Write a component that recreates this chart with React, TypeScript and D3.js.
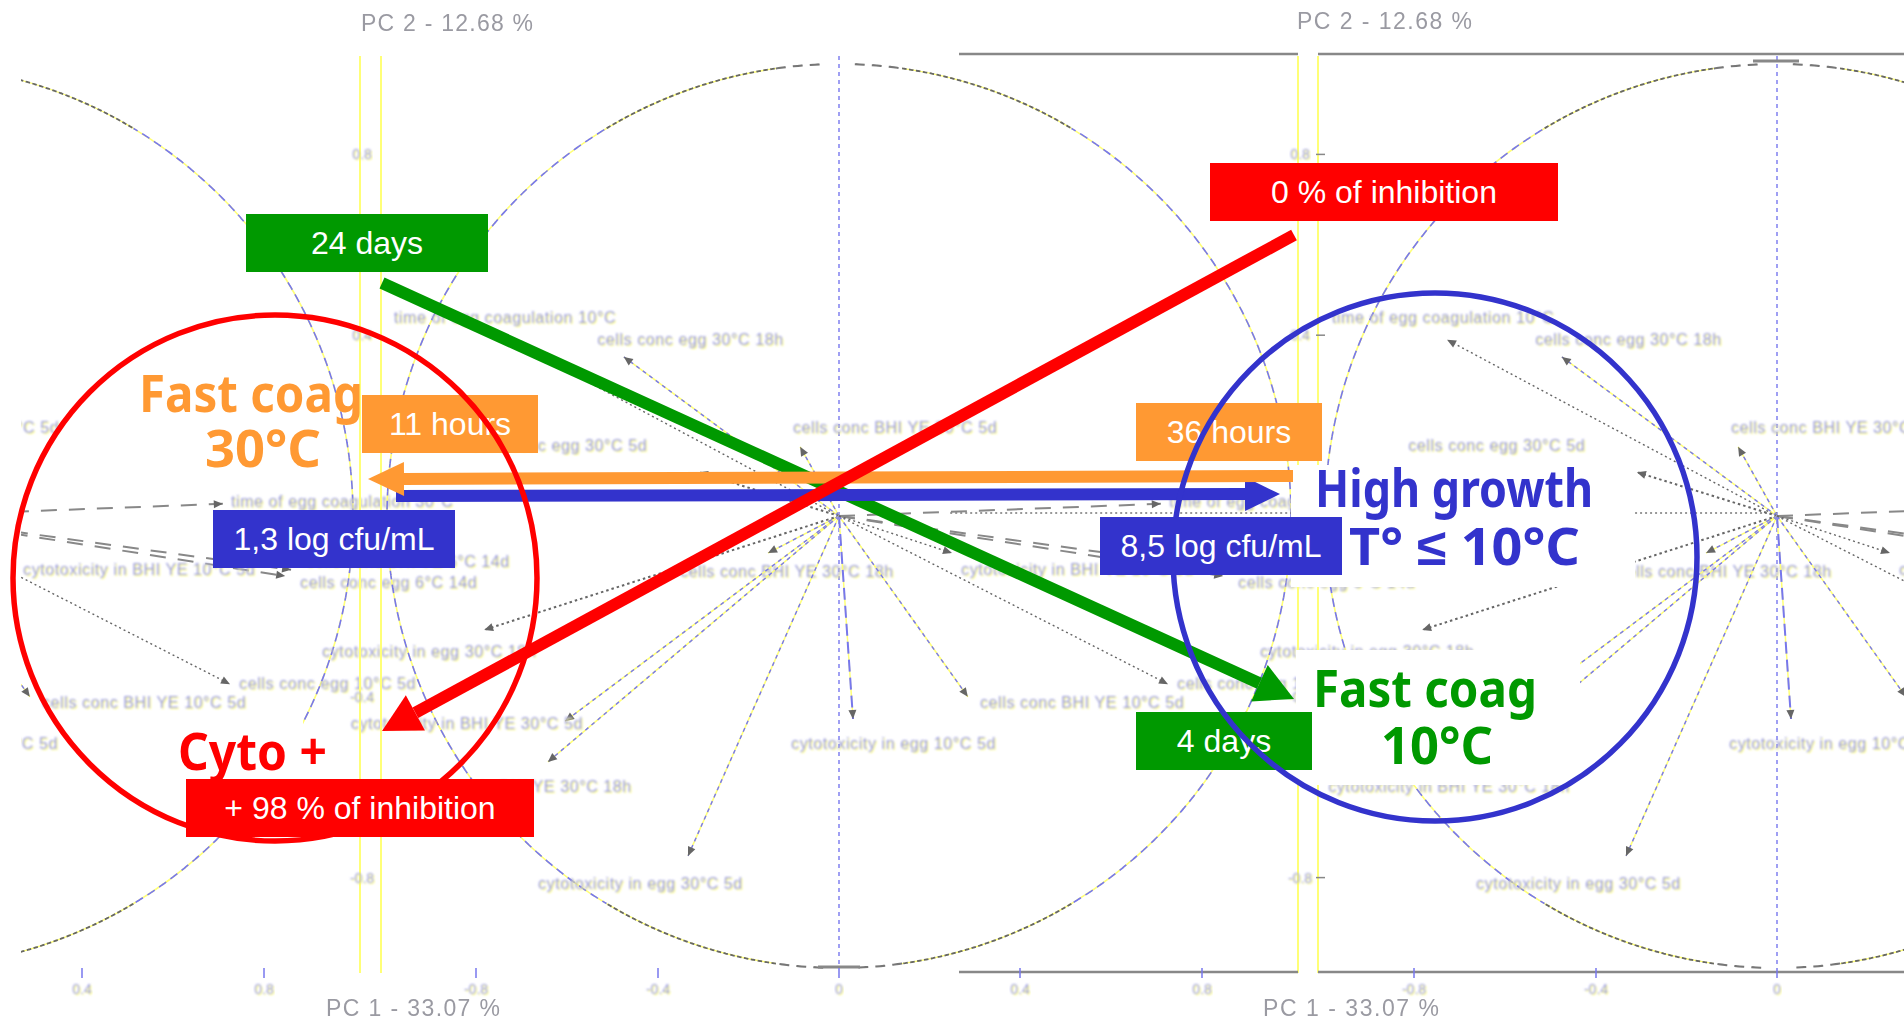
import React from "react";
import * as d3 from "d3";

// PCA loadings (PC1, PC2)
const varNames = [
  "time of egg coagulation 10°C", "cells conc egg 30°C 18h", "cells conc BHI YE 30°C 5d", "cells conc egg 30°C 5d",
  "time of egg coagulation 30°C", "cells conc BHI YE 6°C 14d", "cells conc egg 6°C 14d", "cells conc BHI YE 30°C 18h",
  "cytotoxicity in egg 30°C 18h", "cytotoxicity in BHI YE 30°C 5d", "cytotoxicity in BHI YE 30°C 18h", "cytotoxicity in egg 30°C 5d",
  "cytotoxicity in egg 10°C 5d", "cells conc BHI YE 10°C 5d", "cells conc egg 10°C 5d", "cytotoxicity in BHI YE 10°C 5d",
];
const pc1 = [-0.73, -0.476, -0.086, -0.31, 0.712, 0.863, 0.85, -0.157, -0.785, -0.606, -0.644, -0.334, 0.031, 0.285, 0.728, 0.25];
const pc2 = [0.39, 0.352, 0.153, 0.097, 0.027, -0.119, -0.133, -0.082, -0.252, -0.454, -0.544, -0.752, -0.449, -0.4, -0.372, -0.082];
const labelPc1 = [-0.985, -0.535, -0.102, -0.816, 0.73, 0.895, 0.883, -0.352, -1.144, -1.08, -0.993, -0.666, -0.106, 0.312, 0.748, 0.27];
const labelPc2 = [0.438, 0.389, 0.195, 0.155, 0.031, -0.102, -0.148, -0.124, -0.301, -0.46, -0.6, -0.814, -0.504, -0.414, -0.372, -0.119];
const lineKinds = ["dot", "dash", "dash", "dotbold", "long", "longdouble", "longdouble", "dash", "dotbold", "dash", "dash", "dash", "longblue", "dash", "dot", "dot"];

const xTickLabels = ["0.4", "0.8", "-0.8", "-0.4", "0"];
const xTickValues = [82, 264, 476, 658, 839];
const yTickLabels = ["0.8", "0.4", "-0.4", "-0.8"];
const yTickValues = [0.8, 0.4, -0.4, -0.8];

const panelCenters = [-99, 839, 1777];
const R = 452, CY = 516, PERIOD = 938;
const BLUE = "#3333cc", GREEN = "#009900", ORANGE = "#ff9933", RED = "#ff0000";
const COMIC = "'Comic Sans MS','Noto Sans',sans-serif";
const ARIAL = "'Liberation Sans',Arial,sans-serif";

const arcGen = d3.arc();
const ring = (a0: number, a1: number) => arcGen({ innerRadius: R, outerRadius: R, startAngle: a0, endAngle: a1 } as any) as string;
const PI = Math.PI;
// angular sections of the correlation circle, by line style
const sideArcs = [[0.54, PI - 0.54], [PI + 0.54, 2 * PI - 0.54]];
const dotArcs = [[0.14, 0.54], [-0.54, -0.14], [PI - 0.54, PI - 0.14], [PI + 0.14, PI + 0.54]];
const dashArcs = [[0.035, 0.14], [-0.14, -0.035], [PI + 0.035, PI + 0.14], [PI - 0.14, PI - 0.035]];

function Panel({ cx }: { cx: number }) {
  const x = d3.scaleLinear().domain([-1, 1]).range([cx - R, cx + R]);
  const y = d3.scaleLinear().domain([-1, 1]).range([CY + R, CY - R]);
  const dottedAxis = cx === 839 ? [x(0.246), x(1)] : cx === 1777 ? [x(-0.314), x(0)] : null;
  return (
    <g>
      <g transform={`translate(${cx},${CY})`} fill="none" filter="url(#soft)">
        {sideArcs.map((a, i) => (
          <g key={i}>
            <path d={ring(a[0], a[1])} stroke="#ffff77" strokeWidth={1.6} />
            <path d={ring(a[0], a[1])} stroke="#7777ee" strokeWidth={1.6} strokeDasharray="5 9" />
          </g>
        ))}
        {dotArcs.map((a, i) => (
          <g key={i}>
            <path d={ring(a[0], a[1])} stroke="#ffff77" strokeWidth={1.4} />
            <path d={ring(a[0], a[1])} stroke="#666" strokeWidth={1.8} strokeDasharray="2.5 4.5" />
          </g>
        ))}
        {dashArcs.map((a, i) => <path key={i} d={ring(a[0], a[1])} stroke="#777" strokeWidth={2} strokeDasharray="9 8" />)}
      </g>
      <line x1={cx} x2={cx} y1={56} y2={967} stroke="#7777ee" strokeWidth={1.4} strokeDasharray="4 4" />
      {dottedAxis && <line x1={dottedAxis[0]} x2={dottedAxis[1]} y1={CY - 3} y2={CY - 3} stroke="#777" strokeWidth={1.6} strokeDasharray="2 3" />}
      {varNames.map((n, i) => {
        const kind = lineKinds[i];
        const hx = x(pc1[i]), hy = y(pc2[i]);
        const dash = kind === "dot" ? "2 3" : kind === "dotbold" ? "2.5 3" : kind === "dash" ? "4 4" : kind === "longblue" ? "12 6" : "16 12";
        const col = kind === "dot" || kind === "dotbold" ? "#666" : kind === "longdouble" || kind === "long" ? "#888" : "#7777ee";
        const ang = Math.atan2(hy - CY, hx - cx);
        const head = [[hx, hy], [hx - 9 * Math.cos(ang) - 4 * Math.sin(ang), hy - 9 * Math.sin(ang) + 4 * Math.cos(ang)], [hx - 9 * Math.cos(ang) + 4 * Math.sin(ang), hy - 9 * Math.sin(ang) - 4 * Math.cos(ang)]];
        const lx = x(labelPc1[i]);
        const onScreen = lx + n.length * 7.9 > 21 && lx < 1904;
        return (
          <g key={n}>
            {col === "#7777ee" && <line x1={cx} y1={CY} x2={hx} y2={hy} stroke="#ffff77" strokeWidth={1.5} />}
            <line x1={cx} y1={CY} x2={hx} y2={hy} stroke={col} strokeWidth={kind === "dotbold" || kind.startsWith("long") ? 2 : 1.4} strokeDasharray={dash} />
            <polygon points={head.map((p) => p.join(",")).join(" ")} fill="#666" />
            {onScreen && <text x={lx} y={y(labelPc2[i]) + 5} fontSize={16} letterSpacing={0.6} fill="#9092e6" fontFamily={ARIAL} filter="url(#fringe)">{n}</text>}
          </g>
        );
      })}
    </g>
  );
}

function Arrow({ from, to, w, hl, hw, color }: { from: number[]; to: number[]; w: number; hl: number; hw: number; color: string }) {
  const a = Math.atan2(to[1] - from[1], to[0] - from[0]);
  const bx = to[0] - hl * Math.cos(a), by = to[1] - hl * Math.sin(a);
  const nx = -Math.sin(a), ny = Math.cos(a);
  const pts = [[bx + hw * nx, by + hw * ny], to, [bx - hw * nx, by - hw * ny]];
  return (
    <g>
      <line x1={from[0]} y1={from[1]} x2={bx} y2={by} stroke={color} strokeWidth={w} />
      <polygon points={pts.map((p) => p.join(",")).join(" ")} fill={color} />
    </g>
  );
}

function Box({ x0, x1, y0, y1, color, label }: { x0: number; x1: number; y0: number; y1: number; color: string; label: string }) {
  return (
    <g>
      <rect x={x0} y={y0} width={x1 - x0} height={y1 - y0} fill={color} />
      <text x={(x0 + x1) / 2} y={(y0 + y1) / 2 + 11} textAnchor="middle" fontSize={32} fill="#fff" fontFamily={ARIAL}>{label}</text>
    </g>
  );
}

function Comic({ x0, x1, base, color, label, size = 52 }: { x0: number; x1: number; base: number; color: string; label: string; size?: number }) {
  return <text x={x0} y={base} textLength={x1 - x0} lengthAdjust="spacingAndGlyphs" fontSize={size} fontWeight={700} fill={color} fontFamily={COMIC}>{label}</text>;
}

export default function App() {
  return (
    <svg width={1904} height={1020} style={{ position: "absolute", left: 0, top: 0, background: "#fff" }}>
      <defs>
        <filter id="fringe" x="-5%" y="-40%" width="110%" height="180%">
          <feOffset in="SourceAlpha" dx={1.4} dy={0.5} result="o" />
          <feFlood floodColor="#ffff55" result="f" />
          <feComposite in="f" in2="o" operator="in" result="y" />
          <feMerge result="m"><feMergeNode in="y" /><feMergeNode in="SourceGraphic" /></feMerge>
          <feGaussianBlur in="m" stdDeviation={0.85} />
        </filter>
        <filter id="soft" x="-5%" y="-5%" width="110%" height="110%"><feGaussianBlur stdDeviation={0.5} /></filter>
        <clipPath id="plotClip"><rect x={21} y={0} width={1883} height={1020} /></clipPath>
      </defs>

      <g clipPath="url(#plotClip)">
        {panelCenters.map((c) => <Panel key={c} cx={c} />)}
      </g>

      {/* breaks in the axis, frame, ticks */}
      {[360, 381, 1298, 1318].map((v) => <line key={v} x1={v} x2={v} y1={56} y2={973} stroke="#ffff77" strokeWidth={2} />)}
      {[54, 972].map((v) => (
        <g key={v}>
          <line x1={959} x2={1298} y1={v} y2={v} stroke="#888" strokeWidth={2.5} />
          <line x1={1318} x2={1904} y1={v} y2={v} stroke="#888" strokeWidth={2.5} />
        </g>
      ))}
      <line x1={818} x2={860} y1={967} y2={967} stroke="#888" strokeWidth={3} />
      <line x1={1753} x2={1799} y1={61} y2={61} stroke="#888" strokeWidth={3} />
      {[0, PERIOD].map((off) => (
        <g key={off}>
          {xTickValues.map((v, i) => (
            <g key={i}>
              <line x1={v + off} x2={v + off} y1={968} y2={978} stroke="#7777ee" strokeWidth={1.5} />
              <text x={v + off} y={994} textAnchor="middle" fontSize={14} fill="#9092e6" fontFamily={ARIAL} filter="url(#fringe)">{xTickLabels[i]}</text>
            </g>
          ))}
          {yTickValues.map((v, i) => {
            const yy = d3.scaleLinear().domain([-1, 1]).range([CY + R, CY - R])(v);
            return (
              <g key={i}>
                <text x={362 + off} y={yy + 5} textAnchor="middle" fontSize={14} fill="#9092e6" fontFamily={ARIAL} filter="url(#fringe)">{yTickLabels[i]}</text>
                {off > 0 && <line x1={1316} x2={1325} y1={yy} y2={yy} stroke="#888" strokeWidth={1.5} />}
              </g>
            );
          })}
        </g>
      ))}
      <g fontSize={23} fill="#9a9aa2" fontFamily={ARIAL} filter="url(#soft)">
        <text x={361} y={31} textLength={172}>PC 2  -  12.68 %</text>
        <text x={1297} y={29} textLength={175}>PC 2  -  12.68 %</text>
        <text x={326} y={1016} textLength={174}>PC 1  -  33.07 %</text>
        <text x={1263} y={1016} textLength={176}>PC 1  -  33.07 %</text>
      </g>

      {/* white backing of the big captions */}
      <rect x={1291} y={465} width={344} height={122} fill="#fff" />
      <rect x={1296} y={650} width={284} height={135} fill="#fff" />
      <rect x={170} y={714} width={133} height={66} fill="#fff" />

      <Comic x0={139} x1={363} base={412} color={ORANGE} label="Fast coag" />
      <Comic x0={205} x1={321} base={467} color={ORANGE} label="30°C" />
      <Comic x0={1315} x1={1593} base={507} color={BLUE} label="High growth" />
      <Comic x0={1349} x1={1580} base={565} color={BLUE} label="T° ≤ 10°C" />
      <Comic x0={1313} x1={1537} base={707} color={GREEN} label="Fast coag" />
      <Comic x0={1381} x1={1493} base={764} color={GREEN} label="10°C" />
      <Comic x0={178} x1={327} base={770} color={RED} label="Cyto +" />

      <Box x0={362} x1={538} y0={395} y1={453} color={ORANGE} label="11 hours" />
      <Box x0={1136} x1={1322} y0={403} y1={461} color={ORANGE} label="36 hours" />
      <Box x0={1136} x1={1312} y0={712} y1={770} color={GREEN} label="4 days" />
      <Box x0={246} x1={488} y0={214} y1={272} color={GREEN} label="24 days" />
      <Box x0={1210} x1={1558} y0={163} y1={221} color={RED} label="0 % of inhibition" />

      <Arrow from={[382, 283]} to={[1294, 699]} w={12} hl={38} hw={20} color={GREEN} />
      <Arrow from={[396, 496]} to={[1280, 494]} w={12} hl={35} hw={17} color={BLUE} />
      <Arrow from={[1293, 476]} to={[368, 479]} w={12} hl={36} hw={17} color={ORANGE} />
      <Arrow from={[1294, 235]} to={[382, 731]} w={12} hl={38} hw={20} color={RED} />

      <ellipse cx={275} cy={578} rx={262} ry={263} fill="none" stroke={RED} strokeWidth={5.5} />
      <ellipse cx={1435} cy={557} rx={262} ry={264} fill="none" stroke={BLUE} strokeWidth={5.5} />

      <Box x0={213} x1={455} y0={510} y1={568} color={BLUE} label="1,3 log cfu/mL" />
      <Box x0={1100} x1={1342} y0={517} y1={575} color={BLUE} label="8,5 log cfu/mL" />
      <Box x0={186} x1={534} y0={779} y1={837} color={RED} label="+ 98 % of inhibition" />
    </svg>
  );
}
